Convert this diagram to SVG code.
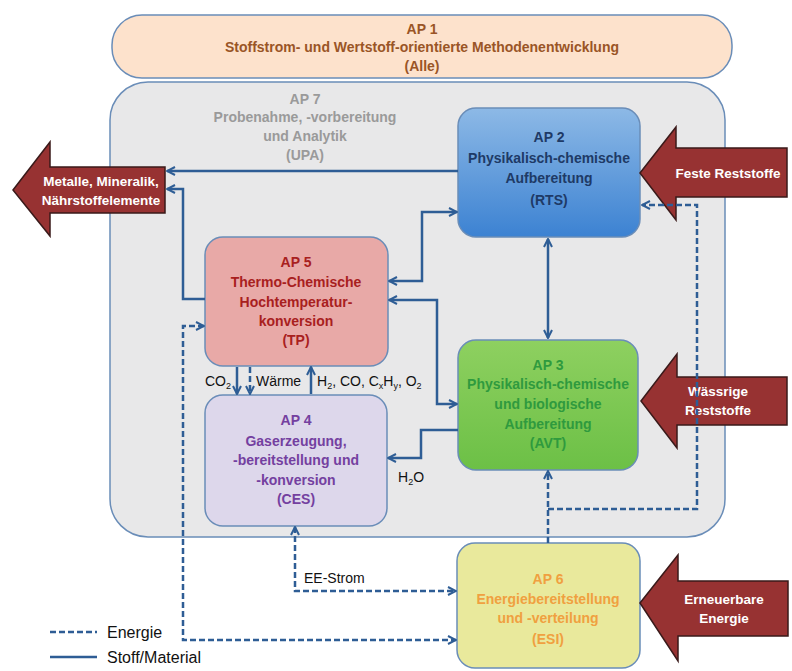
<svg xmlns="http://www.w3.org/2000/svg" width="792" height="671" viewBox="0 0 792 671">
<defs>
<linearGradient id="gBlue" x1="0" y1="0" x2="0" y2="1"><stop offset="0" stop-color="#8db9e6"/><stop offset="1" stop-color="#3c82d2"/></linearGradient>
<linearGradient id="gGreen" x1="0" y1="0" x2="0" y2="1"><stop offset="0" stop-color="#8ed060"/><stop offset="1" stop-color="#6cc046"/></linearGradient>
<marker id="ah" viewBox="0 0 10 10" refX="9" refY="5" markerWidth="4" markerHeight="4" orient="auto-start-reverse" markerUnits="strokeWidth"><path d="M1,1 L9,5 L1,9" fill="none" stroke="#2e5d95" stroke-width="2"/></marker>
<style>
text{font-family:"Liberation Sans Narrow","Liberation Sans",Arial,sans-serif;font-weight:bold;text-anchor:middle;font-size:14px}
.box{stroke:#6a8db8;stroke-width:1.5}
.s{fill:none;stroke:#2e5d95;stroke-width:2.5}
.d{fill:none;stroke:#2e5d95;stroke-width:2.5;stroke-dasharray:6,3}
.big{fill:#973232;stroke:#3a1a1a;stroke-width:1.5}
.w{fill:#ffffff;font-size:13.5px}
.lbl{font-weight:normal;fill:#111;text-anchor:start;font-size:14px}
.leg{font-weight:normal;fill:#111;text-anchor:start;font-size:16px}
</style>
</defs>
<rect width="792" height="671" fill="#ffffff"/>

<g id="ap1">
<rect class="box" x="112" y="15" width="620" height="63" rx="30" fill="#fde2cc"/>
<text x="422" y="34" fill="#9a5526">AP 1</text>
<text x="422" y="52" fill="#9a5526">Stoffstrom- und Wertstoff-orientierte Methodenentwicklung</text>
<text x="422" y="71" fill="#9a5526">(Alle)</text>
</g>

<g id="ap7">
<rect class="box" x="110" y="82" width="615" height="455" rx="38" fill="#e8e8e9"/>
<text x="305" y="104" fill="#9a9a9a">AP 7</text>
<text x="305" y="122" fill="#9a9a9a">Probenahme, -vorbereitung</text>
<text x="305" y="141" fill="#9a9a9a">und Analytik</text>
<text x="305" y="160" fill="#9a9a9a">(UPA)</text>
</g>

<g id="ap2">
<rect class="box" x="458" y="108" width="182" height="129" rx="18" fill="url(#gBlue)"/>
<text x="549" y="142" fill="#1e3a66">AP 2</text>
<text x="549" y="163" fill="#1e3a66">Physikalisch-chemische</text>
<text x="549" y="183" fill="#1e3a66">Aufbereitung</text>
<text x="549" y="205" fill="#1e3a66">(RTS)</text>
</g>

<g id="ap5">
<rect class="box" x="205" y="237" width="183" height="129" rx="18" fill="#e8a9a7"/>
<text x="296" y="267" fill="#a8201e">AP 5</text>
<text x="296" y="287" fill="#a8201e">Thermo-Chemische</text>
<text x="296" y="307" fill="#a8201e">Hochtemperatur-</text>
<text x="296" y="326" fill="#a8201e">konversion</text>
<text x="296" y="345" fill="#a8201e">(TP)</text>
</g>

<g id="ap3">
<rect class="box" x="458" y="340" width="180" height="130" rx="18" fill="url(#gGreen)"/>
<text x="548" y="370" fill="#2f9a3e">AP 3</text>
<text x="548" y="389" fill="#2f9a3e">Physikalisch-chemische</text>
<text x="548" y="409" fill="#2f9a3e">und biologische</text>
<text x="548" y="429" fill="#2f9a3e">Aufbereitung</text>
<text x="548" y="448" fill="#2f9a3e">(AVT)</text>
</g>

<g id="ap4">
<rect class="box" x="205" y="395" width="182" height="131" rx="18" fill="#ddd7eb"/>
<text x="296" y="425" fill="#7440a0">AP 4</text>
<text x="296" y="446" fill="#7440a0">Gaserzeugung,</text>
<text x="296" y="465" fill="#7440a0">-bereitstellung und</text>
<text x="296" y="485" fill="#7440a0">-konversion</text>
<text x="296" y="504" fill="#7440a0">(CES)</text>
</g>

<g id="ap6">
<rect class="box" x="457" y="543" width="183" height="125" rx="18" fill="#e9e99c"/>
<text x="548" y="584" fill="#f0a040">AP 6</text>
<text x="548" y="604" fill="#f0a040">Energiebereitstellung</text>
<text x="548" y="623" fill="#f0a040">und -verteilung</text>
<text x="548" y="644" fill="#f0a040">(ESI)</text>
</g>

<g id="out-metalle">
<path class="big" d="M13,190 L50,142 L50,167 L165,167 L165,213 L50,213 L50,236 Z"/>
<text class="w" x="101" y="186">Metalle, Mineralik,</text>
<text class="w" x="101" y="205">Nährstoffelemente</text>
</g>
<g id="in-feste">
<path class="big" d="M640,173 L676,127 L676,148 L787,148 L787,197 L676,197 L676,220 Z"/>
<text class="w" x="728" y="178">Feste Reststoffe</text>
</g>
<g id="in-waessrig">
<path class="big" d="M641,401 L677,354 L677,377 L787,377 L787,425 L677,425 L677,448 Z"/>
<text class="w" x="718" y="396">Wässrige</text>
<text class="w" x="718" y="415">Reststoffe</text>
</g>
<g id="in-erneuerbar">
<path class="big" d="M640,603 L678,555 L678,581 L788,581 L788,636 L678,636 L678,661 Z"/>
<text class="w" x="724" y="604">Erneuerbare</text>
<text class="w" x="724" y="623">Energie</text>
</g>

<g id="connectors">
<path class="s" d="M458,171 L167,171" marker-end="url(#ah)"/>
<path class="s" d="M205,299 L183,299 L183,189 L167,189" marker-end="url(#ah)"/>
<path class="s" d="M457,212 L422,212 L422,281 L389,281" marker-start="url(#ah)" marker-end="url(#ah)"/>
<path class="s" d="M389,300 L437,300 L437,404 L457,404" marker-start="url(#ah)" marker-end="url(#ah)"/>
<path class="s" d="M548,239 L548,338" marker-start="url(#ah)" marker-end="url(#ah)"/>
<path class="s" d="M458,430 L421,430 L421,458 L388,458" marker-end="url(#ah)"/>
<path class="s" d="M237,367 L237,394" marker-end="url(#ah)"/>
<path class="d" d="M250,367 L250,394" marker-end="url(#ah)"/>
<path class="s" d="M311,394 L311,367" marker-end="url(#ah)"/>
<path class="d" d="M204,326 L183,326 L183,640 L456,640" marker-start="url(#ah)" marker-end="url(#ah)"/>
<path class="d" d="M295,527 L295,591 L456,591" marker-start="url(#ah)" marker-end="url(#ah)"/>
<path class="d" d="M548,543 L548,471" marker-end="url(#ah)"/>
<path class="d" d="M548,509 L697,509 L697,205 L642,205" marker-end="url(#ah)"/>
<text class="lbl" x="205" y="386">CO<tspan font-size="9" dy="3">2</tspan></text>
<text class="lbl" x="256" y="386">Wärme</text>
<text class="lbl" x="317" y="386">H<tspan font-size="9" dy="3">2</tspan><tspan dy="-3">, CO, C</tspan><tspan font-size="9" dy="3">x</tspan><tspan dy="-3">H</tspan><tspan font-size="9" dy="3">y</tspan><tspan dy="-3">, O</tspan><tspan font-size="9" dy="3">2</tspan></text>
<text class="lbl" x="398" y="482">H<tspan font-size="9" dy="3">2</tspan><tspan dy="-3">O</tspan></text>
<text class="lbl" x="304" y="583">EE-Strom</text>
</g>

<g id="legend">
<path class="d" d="M50,632 L97,632"/>
<path class="s" d="M50,657 L97,657"/>
<text class="leg" x="107" y="638">Energie</text>
<text class="leg" x="107" y="663">Stoff/Material</text>
</g>
</svg>
